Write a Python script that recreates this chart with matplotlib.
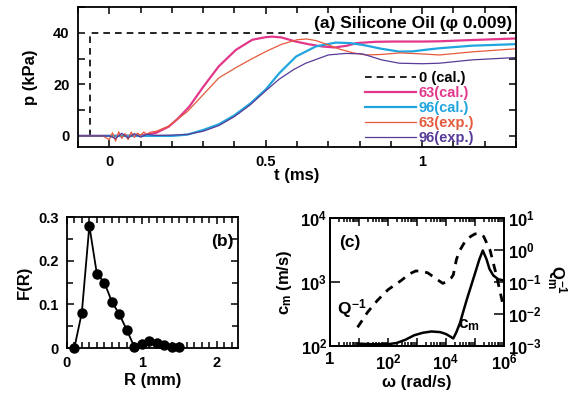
import numpy as np
import matplotlib.pyplot as plt
from matplotlib.ticker import MultipleLocator, FixedLocator, FixedFormatter, LogLocator, NullLocator, NullFormatter

plt.rcParams['font.family'] = ['Liberation Sans', 'DejaVu Sans']
plt.rcParams['font.weight'] = 'bold'
plt.rcParams['axes.labelweight'] = 'bold'
plt.rcParams['mathtext.fontset'] = 'custom'
plt.rcParams['mathtext.rm'] = 'Liberation Sans:bold'
plt.rcParams['mathtext.it'] = 'Liberation Sans:bold'
plt.rcParams['mathtext.bf'] = 'Liberation Sans:bold'

# ---- (a) pressure histories ----
t_cal0 = [-0.1, -0.063, -0.063, 1.3]
p_cal0 = [0, 0, 40, 40]

t_cal63 = [-0.1, 0.0, 0.10, 0.15, 0.19, 0.22, 0.256, 0.30, 0.35, 0.405, 0.457, 0.50,
           0.52, 0.55, 0.596, 0.64, 0.68, 0.72, 0.76, 0.79, 0.85, 0.90, 1.0, 1.055, 1.16, 1.3]
p_cal63 = [0, 0, 0.2, 1.2, 3.6, 6.8, 11.4, 19, 27, 33.4, 37.3, 38.3,
           38.5, 38.2, 36.6, 35.5, 34.7, 34.3, 35.0, 36.0, 36.5, 36.6, 36.6, 36.7, 37.2, 37.8]

t_cal96 = [-0.1, 0.2, 0.25, 0.30, 0.35, 0.40, 0.45, 0.50, 0.543, 0.597, 0.66, 0.724,
           0.77, 0.81, 0.87, 0.927, 0.97, 1.01, 1.055, 1.16, 1.3]
p_cal96 = [0, 0, 0.5, 2.3, 4.5, 8.0, 12.5, 18.0, 24.3, 30.8, 34.7, 36.2,
           36.0, 35.3, 33.8, 32.7, 32.8, 33.4, 34.0, 35.0, 35.6]

t_exp63 = [-0.1, -0.02, 0.0, 0.01, 0.02, 0.03, 0.04, 0.05, 0.06, 0.07, 0.08, 0.09,
           0.10, 0.11, 0.12, 0.13, 0.15, 0.19, 0.25, 0.30, 0.35, 0.405, 0.457, 0.505,
           0.55, 0.60, 0.63, 0.66, 0.70, 0.735, 0.78, 0.82, 0.87, 0.93, 1.0, 1.055, 1.16, 1.3]
p_exp63 = [0, 0, -1.5, 1.2, -2.0, 1.6, -1.0, 0.9, -1.4, 1.5, -0.6, 1.1,
           0.2, 1.5, 0.6, 1.4, 1.8, 3.8, 9.5, 16.0, 22.5, 26.5, 30.0, 33.0,
           35.5, 37.3, 37.6, 37.0, 35.3, 33.7, 32.2, 31.4, 31.6, 32.2, 31.8, 31.4, 32.6, 33.8]

t_exp96 = [-0.1, 0.0, 0.02, 0.04, 0.06, 0.08, 0.10, 0.12, 0.15, 0.20, 0.25, 0.30, 0.35,
           0.40, 0.45, 0.50, 0.543, 0.59, 0.628, 0.70, 0.756, 0.81, 0.87, 0.927, 1.0,
           1.055, 1.16, 1.3]
p_exp96 = [0, 0, -1.0, 1.0, -0.8, 0.9, -0.5, 0.6, 0.2, 0.3, 0.6, 1.8, 4.0,
           7.5, 12.0, 17.5, 22.0, 25.8, 28.2, 31.4, 32.0, 31.8, 29.5, 28.2, 28.0,
           28.2, 29.5, 30.4]

# ---- (b) size distribution ----
R = [0.1, 0.2, 0.3, 0.4, 0.5, 0.6, 0.7, 0.8, 0.9, 1.0, 1.1, 1.2, 1.3, 1.4, 1.5]
F = [0.0, 0.081, 0.28, 0.17, 0.15, 0.106, 0.077, 0.041, 0.002, 0.010, 0.017, 0.011, 0.008, 0.002, 0.002]

# ---- (c) dispersion and attenuation (log10 values) ----
logw_c = [0.95, 1.5, 2.0, 2.3, 2.6, 2.9, 3.2, 3.5, 3.8, 4.0, 4.15, 4.25, 4.35, 4.48,
          4.71, 5.0, 5.15, 5.27, 5.4, 5.5, 5.63, 5.8, 6.0]
logc = [2.03, 2.02, 2.02, 2.04, 2.09, 2.16, 2.20, 2.22, 2.21, 2.18, 2.14, 2.11, 2.2, 2.35,
        2.71, 3.13, 3.35, 3.49, 3.35, 3.2, 3.10, 3.04, 3.02]
logw_q = [0.95, 1.3, 1.63, 2.0, 2.44, 2.75, 2.96, 3.2, 3.37, 3.65, 3.89, 4.02, 4.18,
          4.25, 4.36, 4.48, 4.65, 4.85, 5.0, 5.15, 5.3, 5.52, 5.75, 5.98]
logq = [-2.43, -1.95, -1.59, -1.25, -0.97, -0.75, -0.66, -0.68, -0.72, -0.9, -1.05, -1.0, -0.88,
        -0.79, -0.3, -0.01, 0.25, 0.42, 0.5, 0.52, 0.42, -0.01, -0.84, -1.78]

c_mag = '#e2378a'
c_cya = '#21a5de'
c_ora = '#e55a3c'
c_pur = '#573b98'

fs_tick = 10.5
fs_lab = 12


def style(ax):
    for s in ax.spines.values():
        s.set_linewidth(1.3)
    ax.tick_params(which='both', direction='in', top=True, right=True, width=1.1,
                   labelsize=fs_tick, pad=6)
    ax.tick_params(which='major', length=5)
    ax.tick_params(which='minor', length=4)


fig = plt.figure(figsize=(5.75, 3.96), dpi=100)

# (a)
ax = fig.add_axes([0.1357, 0.6288, 0.7617, 0.3535])
ax.plot(t_cal0, p_cal0, 'k--', lw=1.2, dashes=(4, 3), label='0 (cal.)')
ax.plot(t_cal63, p_cal63, color=c_mag, lw=1.6, label='63(cal.)')
ax.plot(t_cal96, p_cal96, color=c_cya, lw=1.6, label='96(cal.)')
ax.plot(t_exp63, p_exp63, color=c_ora, lw=0.9, label='63(exp.)')
ax.plot(t_exp96, p_exp96, color=c_pur, lw=0.9, label='96(exp.)')
ax.set_xlim(-0.1, 1.3)
ax.set_ylim(-4.3, 50)
style(ax)
ax.xaxis.set_major_locator(FixedLocator([0, 0.5, 1]))
ax.xaxis.set_major_formatter(FixedFormatter(['0', '0.5', '1']))
ax.xaxis.set_minor_locator(MultipleLocator(0.1))
ax.yaxis.set_major_locator(MultipleLocator(20))
ax.yaxis.set_minor_locator(MultipleLocator(10))
ax.tick_params(which='minor', axis='y', length=5)
ax.set_xlabel('t (ms)', fontsize=fs_lab)
ax.set_ylabel('p (kPa)', fontsize=fs_lab)
ax.xaxis.set_label_coords(0.5, -0.15)
ax.yaxis.set_label_coords(-0.091, 0.5)
ax.text(0.99, 0.885, '(a) Silicone Oil (φ 0.009)', transform=ax.transAxes,
        ha='right', va='center', fontsize=12.5, fontweight='bold')
ax.legend(loc='upper left', bbox_to_anchor=(0.655, 0.545), frameon=False,
          fontsize=10.5, labelcolor='linecolor', handlelength=3.5, handletextpad=0.2,
          labelspacing=0.08, borderpad=0, borderaxespad=0)

# (b)
bx = fig.add_axes([0.1162, 0.1212, 0.2977, 0.3308])
bx.plot(R, F, 'k-o', lw=1.3, ms=6.5, clip_on=False, zorder=3)
bx.set_xlim(0, 2.28)
bx.set_ylim(0, 0.3)
style(bx)
bx.set_yticks([0, 0.1, 0.2, 0.3])
bx.set_yticklabels(['0', '0.1', '0.2', '0.3'])
bx.yaxis.set_minor_locator(MultipleLocator(0.05))
bx.set_xticks([0, 1, 2])
bx.set_xticklabels(['0', '1', '2'])
bx.xaxis.set_minor_locator(MultipleLocator(0.1))
bx.set_xlabel('R (mm)', fontsize=fs_lab)
bx.set_ylabel('F(R)', fontsize=fs_lab)
bx.xaxis.set_label_coords(0.5, -0.19)
bx.yaxis.set_label_coords(-0.204, 0.5)
bx.text(0.91, 0.81, '(b)', transform=bx.transAxes, ha='center', va='center',
        fontsize=12.5, fontweight='bold')

# (c)
cx = fig.add_axes([0.5739, 0.1275, 0.3026, 0.322])
cx.plot(10 ** np.array(logw_c), 10 ** np.array(logc), 'k-', lw=1.8)
cx.set_xscale('log')
cx.set_yscale('log')
cx.set_xlim(1, 1e6)
cx.set_ylim(1e2, 1e4)
qx = cx.twinx()
qx.plot(10 ** np.array(logw_q), 10 ** np.array(logq), 'k', lw=2.0, ls=(0, (3, 2.5)))
qx.set_yscale('log')
qx.set_ylim(1e-3, 1e1)
for a in (cx, qx):
    for s in a.spines.values():
        s.set_linewidth(1.3)
fs_c = 12
cx.tick_params(which='both', direction='in', top=True, right=False, width=1.1,
               labelsize=fs_c, pad=5)
cx.tick_params(which='major', length=6)
cx.tick_params(which='minor', length=3)
cx.xaxis.set_major_locator(FixedLocator([1, 1e1, 1e2, 1e3, 1e4, 1e5, 1e6]))
cx.xaxis.set_major_formatter(FixedFormatter(['1', '', r'$\mathbf{10^{2}}$', '', r'$\mathbf{10^{4}}$',
                                             '', r'$\mathbf{10^{6}}$']))
cx.xaxis.set_minor_locator(LogLocator(base=10, subs=np.arange(2, 10), numticks=20))
cx.xaxis.set_minor_formatter(NullFormatter())
cx.yaxis.set_major_locator(FixedLocator([1e2, 1e3, 1e4]))
cx.yaxis.set_major_formatter(FixedFormatter([r'$\mathbf{10^{2}}$', r'$\mathbf{10^{3}}$',
                                             r'$\mathbf{10^{4}}$']))
cx.yaxis.set_minor_locator(NullLocator())
cx.tick_params(axis='y', which='major', length=7, pad=2)
qx.tick_params(which='both', direction='in', width=1.1, labelsize=fs_c, pad=3)
qx.tick_params(which='major', length=7)
qx.yaxis.set_major_locator(FixedLocator([1e-3, 1e-2, 1e-1, 1e0, 1e1]))
qx.yaxis.set_major_formatter(FixedFormatter([r'$\mathbf{10^{-3}}$', r'$\mathbf{10^{-2}}$',
                                             r'$\mathbf{10^{-1}}$', r'$\mathbf{10^{0}}$',
                                             r'$\mathbf{10^{1}}$']))
qx.yaxis.set_minor_locator(NullLocator())
cx.set_xlabel('ω (rad/s)', fontsize=fs_lab)
cx.set_ylabel(r'$c_m$ (m/s)', fontsize=fs_lab)
cx.xaxis.set_label_coords(0.5, -0.235)
cx.yaxis.set_label_coords(-0.205, 0.5)
fig.text(556 / 575, 1 - 280 / 396, r'$Q_m^{-1}$', rotation=-90, ha='center', va='center',
         fontsize=fs_lab)
cx.text(0.115, 0.81, '(c)', transform=cx.transAxes, ha='center', va='center',
        fontsize=12.5, fontweight='bold')
cx.text(0.125, 0.29, r'$Q^{-1}$', transform=cx.transAxes, ha='center', va='center',
        fontsize=12.5)
cx.text(0.80, 0.16, r'$c_m$', transform=cx.transAxes, ha='center', va='center',
        fontsize=12.5)

fig.savefig('out.png', dpi=100)
